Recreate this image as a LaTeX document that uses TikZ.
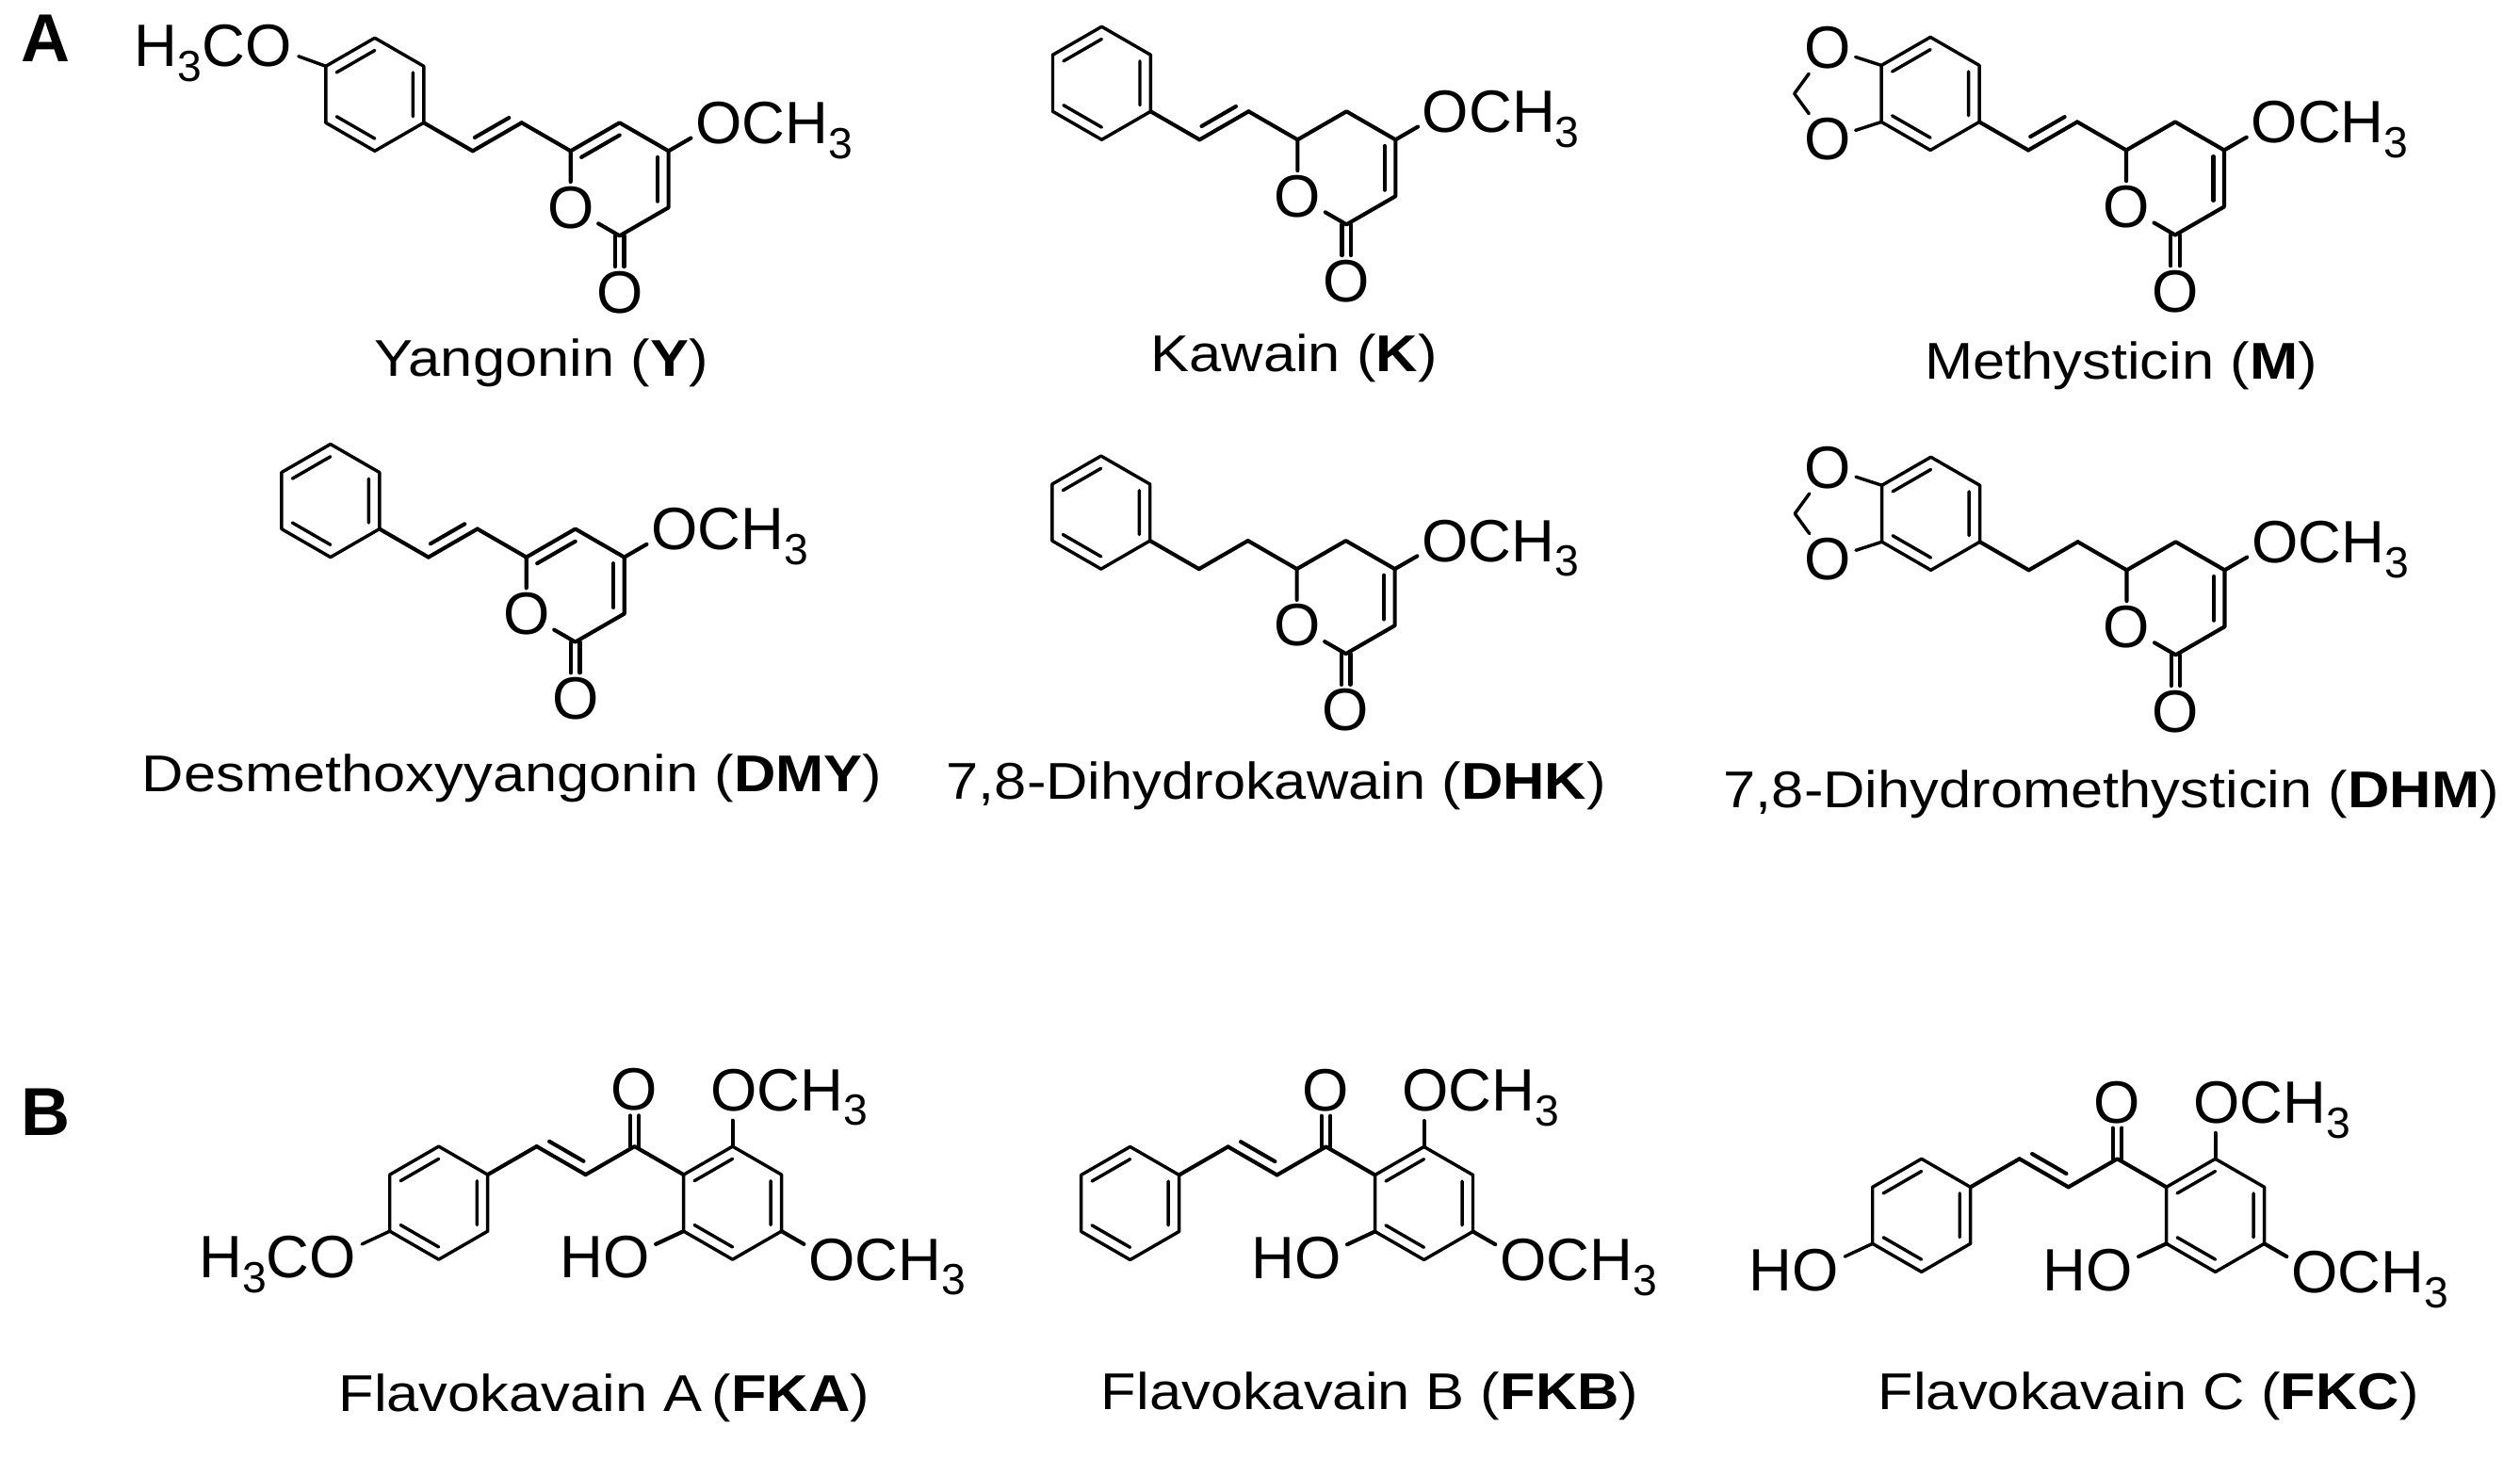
\documentclass[tikz,border=0pt]{standalone}
\usepackage{fontspec}
\setmainfont{Liberation Sans}
\usetikzlibrary{calc}
\newcommand\atomfont{\fontsize{18.5}{20}\selectfont}
\newcommand\sub[1]{\raisebox{-4.5pt}{\fontsize{13.5}{14}\selectfont #1}}
\newcommand\nmf[1]{\fontsize{16}{18}\selectfont\scalebox{1.12}[1]{#1}}
\def\L{35}
\tikzset{bond/.style={line width=1.2pt,line cap=round,line join=round},
 ringb/.style={line width=1.0pt,line join=round,line cap=round},
 atom/.style={font=\atomfont,inner sep=1.2pt},
 sublbl/.style={font=\atomfont,inner sep=0pt},
 cpdname/.style={anchor=base,inner sep=0pt},
 panel/.style={font=\fontsize{21}{22}\selectfont\bfseries,anchor=base west,inner sep=0pt}}
\newcommand\benz[2]{%
 \coordinate (#1) at (#2);
 \path (#1) ++(90:\L) coordinate (#1t) (#1) ++(30:\L) coordinate (#1ur)
  (#1) ++(-30:\L) coordinate (#1lr) (#1) ++(-90:\L) coordinate (#1b)
  (#1) ++(-150:\L) coordinate (#1ll) (#1) ++(150:\L) coordinate (#1ul);
 \draw[ringb] (#1t)--(#1ur)--(#1lr)--(#1b)--(#1ll)--(#1ul)--cycle;
 \draw[ringb] ($(#1)!0.78!(#1ul)$)--($(#1)!0.78!(#1t)$)
  ($(#1)!0.78!(#1ur)$)--($(#1)!0.78!(#1lr)$)
  ($(#1)!0.78!(#1ll)$)--($(#1)!0.78!(#1b)$);}
\newcommand\diox[1]{%
 \path (#1ul) ++(162:\L) coordinate (#1Oa);
 \path (#1ll) ++(-162:\L) coordinate (#1Ob);
 \path ($(#1ul)!0.5!(#1ll)$) ++(180:53.9) coordinate (#1Cm);
 \node[atom] (#1OA) at (#1Oa) {O};
 \node[atom] (#1OB) at (#1Ob) {O};
 \draw[ringb] (#1ul)--(#1OA) (#1OA)--(#1Cm)--(#1OB) (#1OB)--(#1ll);}
\newcommand\dbl[2]{\draw[bond] (#1)--(#2)
 ($(#1)!0.15!(#2)!3.3pt!90:(#2)$)--($(#2)!0.15!(#1)!3.3pt!-90:(#1)$);}
\newcommand\och[2]{% #1 name, #2 coordinate of O
 \node[sublbl,anchor=base west] (#1) at ($(#2)+(-14,-13)$) {OCH\sub{3}};}
\newcommand\pyr[3]{%
 \path (#2) ++(30:\L) coordinate (#1c5) ++(-30:\L) coordinate (#1c4)
  ++(-90:\L) coordinate (#1c3) ++(-150:\L) coordinate (#1c2) ++(150:\L) coordinate (#1o1);
 \path (#2) ++(-30:\L) coordinate (#1cen);
 \path (#1c2) ++(-90:\L) coordinate (#1ox);
 \path (#1c4) ++(30:\L) coordinate (#1om);
 \node[atom] (#1O1) at (#1o1) {O};
 \node[atom] (#1OX) at (#1ox) {O};
 \draw[bond] (#2)--(#1O1) (#1O1)--(#1c2)--(#1c3)--(#1c4)--(#1c5)--(#2);
 \draw[bond] (#1c4)--($(#1om)!9.5pt!(#1c4)$);
 \draw[bond] ($(#1cen)!0.78!(#1c4)$)--($(#1cen)!0.78!(#1c3)$);
 \ifnum#3=1 \draw[bond] ($(#1cen)!0.78!(#2)$)--($(#1cen)!0.78!(#1c5)$);\fi
 \draw[bond] ($(#1c2)+(-1.4pt,0)$)--($(#1OX.north)+(-1.4pt,0)$)
  ($(#1c2)+(1.4pt,0)$)--($(#1OX.north)+(1.4pt,0)$);
 \och{#1OM}{#1om}}
\newcommand\kchain[3]{%
 \path (#2) ++(-30:\L) coordinate (#1a1) ++(30:\L) coordinate (#1a2) ++(-30:\L) coordinate (#1c6);
 \draw[bond] (#2)--(#1a1) (#1a2)--(#1c6);
 \ifnum#3=1 \dbl{#1a1}{#1a2}\else\draw[bond] (#1a1)--(#1a2);\fi}
\newcommand\chal[2]{%
 \benz{#1a}{#2}
 \path (#1a) ++(181.9,0) coordinate (#1bc);
 \benz{#1b}{#1bc}
 \path (#1aur) ++(30:\L) coordinate (#1ca) ++(-30:\L) coordinate (#1cb) ++(30:\L) coordinate (#1cc);
 \path (#1cc) ++(90:\L) coordinate (#1co);
 \draw[bond] (#1aur)--(#1ca);
 \dbl{#1ca}{#1cb}
 \draw[bond] (#1cb)--(#1cc)--(#1bul);
 \node[atom] (#1CO) at (#1co) {O};
 \draw[bond] ($(#1cc)+(-1.4pt,0)$)--($(#1CO.south)+(-1.4pt,0)$)
  ($(#1cc)+(1.4pt,0)$)--($(#1CO.south)+(1.4pt,0)$);
 \path (#1bt) ++(90:\L) coordinate (#1o1);
 \draw[bond] (#1bt)--($(#1o1)!9.5pt!(#1bt)$);
 \och{#1M1}{#1o1}
 \path (#1bll) ++(-155:38) coordinate (#1o2);
 \draw[bond] (#1bll)--($(#1o2)!9.5pt!(#1bll)$);
 \node[sublbl,anchor=base east] (#1HO) at ($(#1o2)+(14,-13)$) {HO};
 \path (#1blr) ++(-30:\L) coordinate (#1o3);
 \draw[bond] (#1blr)--($(#1o3)!9.5pt!(#1blr)$);
 \och{#1M3}{#1o3}}
\begin{document}
\begin{tikzpicture}[x=0.5pt,y=0.5pt]
\useasboundingbox (0,0) rectangle (1560,-902.8);
\node[panel] (pA) at (13,-38) {A};
\node[panel] (pB) at (13,-703) {B};
% Yangonin
\benz{Y}{232,-58.5}
\path (Yul) ++(160:37) coordinate (yo);
\draw[ringb] (Yul)--($(yo)!9.5pt!(Yul)$);
\node[sublbl,anchor=base east] (yH3CO) at ($(yo)+(14,-13)$) {H\sub{3}CO};
\kchain{y}{Ylr}{1}
\pyr{yp}{yc6}{1}
\node[cpdname] (nY) at (335,-233) {\nmf{Yangonin (\textbf{Y})}};
% Kawain
\benz{K}{682,-51.5}
\kchain{k}{Klr}{1}
\pyr{kp}{kc6}{0}
\node[cpdname] (nK) at (801,-230) {\nmf{Kawain (\textbf{K})}};
% Methysticin
\benz{M}{1195,-58}
\diox{M}
\kchain{m}{Mlr}{1}
\pyr{mp}{mc6}{0}
\node[cpdname] (nM) at (1313,-235) {\nmf{Methysticin (\textbf{M})}};
% DMY
\benz{D}{204.6,-310}
\kchain{d}{Dlr}{1}
\pyr{dp}{dc6}{1}
\node[cpdname] (nD) at (317,-490) {\nmf{Desmethoxyyangonin (\textbf{DMY})}};
% DHK
\benz{H}{681.6,-317.3}
\kchain{h}{Hlr}{0}
\pyr{hp}{hc6}{0}
\node[cpdname] (nH) at (790,-495) {\nmf{7,8-Dihydrokawain (\textbf{DHK})}};
% DHM
\benz{HM}{1195.3,-318}
\diox{HM}
\kchain{hm}{HMlr}{0}
\pyr{hmp}{hmc6}{0}
\node[cpdname] (nHM) at (1307,-500) {\nmf{7,8-Dihydromethysticin (\textbf{DHM})}};
% Flavokavains
\chal{FA}{271.6,-744.8}
\path (FAall) ++(-155:38) coordinate (fao);
\draw[ringb] (FAall)--($(fao)!9.5pt!(FAall)$);
\node[sublbl,anchor=base east] (faH3CO) at ($(fao)+(14,-13)$) {H\sub{3}CO};
\node[cpdname] (nFA) at (374,-874) {\nmf{Flavokavain A\thinspace(\textbf{FKA})}};
\chal{FB}{699.6,-745}
\node[cpdname] (nFB) at (848,-873) {\nmf{Flavokavain B (\textbf{FKB})}};
\chal{FC}{1189.5,-752.5}
\path (FCall) ++(-155:38) coordinate (fco);
\draw[ringb] (FCall)--($(fco)!9.5pt!(FCall)$);
\node[sublbl,anchor=base east] (fcHO) at ($(fco)+(14,-13)$) {HO};
\node[cpdname] (nFC) at (1330,-873) {\nmf{Flavokavain C (\textbf{FKC})}};
\end{tikzpicture}
\end{document}
